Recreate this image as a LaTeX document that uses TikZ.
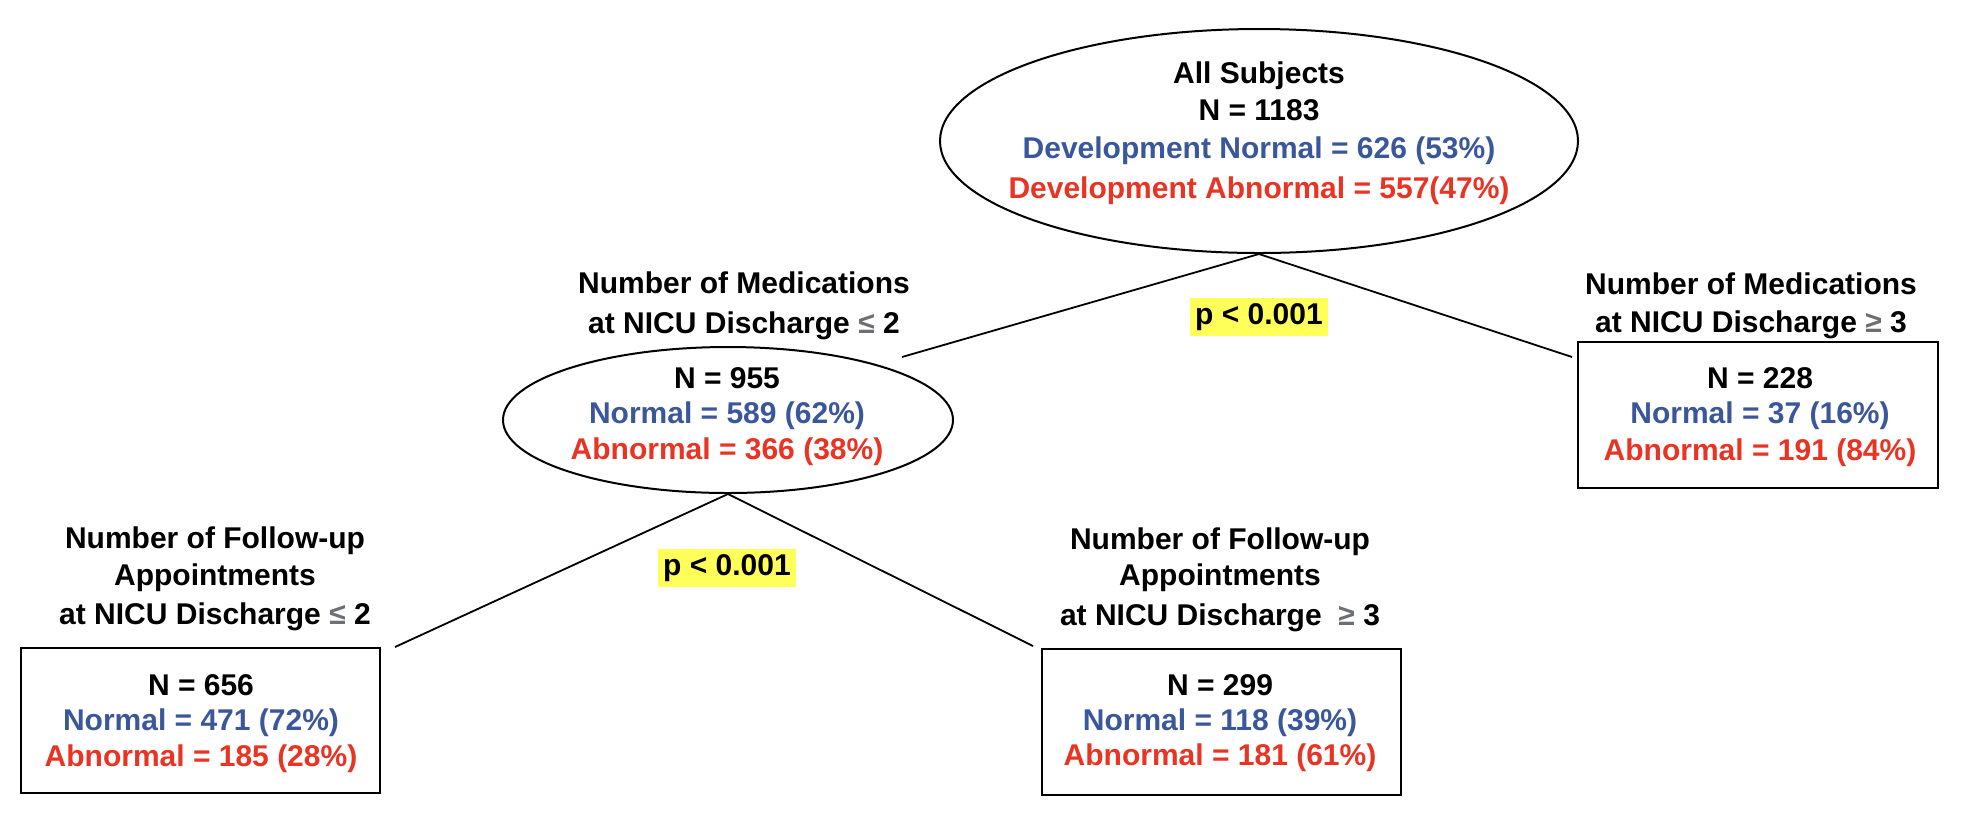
\documentclass[tikz,border=0pt]{standalone}
\usepackage{fontspec}
\setmainfont{Liberation Sans}
\usetikzlibrary{shapes.geometric}
\definecolor{nblue}{RGB}{59,87,155}
\definecolor{nred}{RGB}{233,51,35}
\definecolor{symgray}{RGB}{110,111,115}
\definecolor{hl}{RGB}{255,255,89}
\begin{document}
\begin{tikzpicture}[x=0.5pt,y=-0.5pt,
  txt/.style={font=\fontsize{15}{18}\selectfont\bfseries, inner sep=0pt, anchor=base},
  ell/.style={draw, ellipse, line width=1pt, inner sep=0pt},
  boxnode/.style={draw, rectangle, line width=1.4pt, inner sep=0pt},
  conn/.style={line width=0.9pt},
  pval/.style={fill=hl, inner sep=0pt, minimum width=69pt, minimum height=19pt,
    font=\fontsize{15}{18}\selectfont\bfseries}]
\useasboundingbox (0,0) rectangle (1964,826);

% shapes
\node[ell, minimum width=319pt, minimum height=112pt] (all) at (1259,141) {};
\node[ell, minimum width=225pt, minimum height=73pt] (mid) at (728,420) {};
\node[boxnode, minimum width=180pt, minimum height=73pt] (rbox) at (1758,415) {};
\node[boxnode, minimum width=179.5pt, minimum height=72.5pt] (llbox) at (200.5,720.5) {};
\node[boxnode, minimum width=179.5pt, minimum height=73pt] (lrbox) at (1221.5,722) {};

% connector free ends
\coordinate (c1) at (902,357);
\coordinate (c2) at (1572,357);
\coordinate (c3) at (395,647);
\coordinate (c4) at (1033,646);
\draw[conn] (c1) -- (all.south) -- (c2);
\draw[conn] (c3) -- (mid.south) -- (c4);

% p values
\node[pval] (p1) at (1259,317) {p < 0.001};
\node[pval] (p2) at (727,568) {p < 0.001};

% top ellipse text
\node[txt] (a1) at (1259,83) {All Subjects};
\node[txt] (a2) at (1259,120) {N = 1183};
\node[txt, text=nblue] (a3) at (1259,158) {Development Normal = 626 (53\%)};
\node[txt, text=nred] (a4) at (1259,198) {Development Abnormal = 557(47\%)};

% middle split labels
\node[txt] (m1) at (744,293) {Number of Medications};
\node[txt] (m2) at (744,333) {at NICU Discharge {\color{symgray}≤} 2};
\node[txt] (m3) at (727,388) {N = 955};
\node[txt, text=nblue] (m4) at (727,423) {Normal = 589 (62\%)};
\node[txt, text=nred] (m5) at (727,459) {Abnormal = 366 (38\%)};

% right
\node[txt] (r1) at (1751,294) {Number of Medications};
\node[txt] (r2) at (1751,332) {at NICU Discharge {\color{symgray}≥} 3};
\node[txt] (r3) at (1760,388) {N = 228};
\node[txt, text=nblue] (r4) at (1760,423) {Normal = 37 (16\%)};
\node[txt, text=nred] (r5) at (1760,460) {Abnormal = 191 (84\%)};

% lower left
\node[txt] (l1) at (215,548) {Number of Follow-up};
\node[txt] (l2) at (215,585) {Appointments};
\node[txt] (l3) at (215,624) {at NICU Discharge {\color{symgray}≤} 2};
\node[txt] (l4) at (201,695) {N = 656};
\node[txt, text=nblue] (l5) at (201,730) {Normal = 471 (72\%)};
\node[txt, text=nred] (l6) at (201,766) {Abnormal = 185 (28\%)};

% lower right
\node[txt] (q1) at (1220,549) {Number of Follow-up};
\node[txt] (q2) at (1220,585) {Appointments};
\node[txt] (q3) at (1220,625) {at NICU Discharge~ {\color{symgray}≥} 3};
\node[txt] (q4) at (1220,695) {N = 299};
\node[txt, text=nblue] (q5) at (1220,730) {Normal = 118 (39\%)};
\node[txt, text=nred] (q6) at (1220,765) {Abnormal = 181 (61\%)};
\end{tikzpicture}
\end{document}
